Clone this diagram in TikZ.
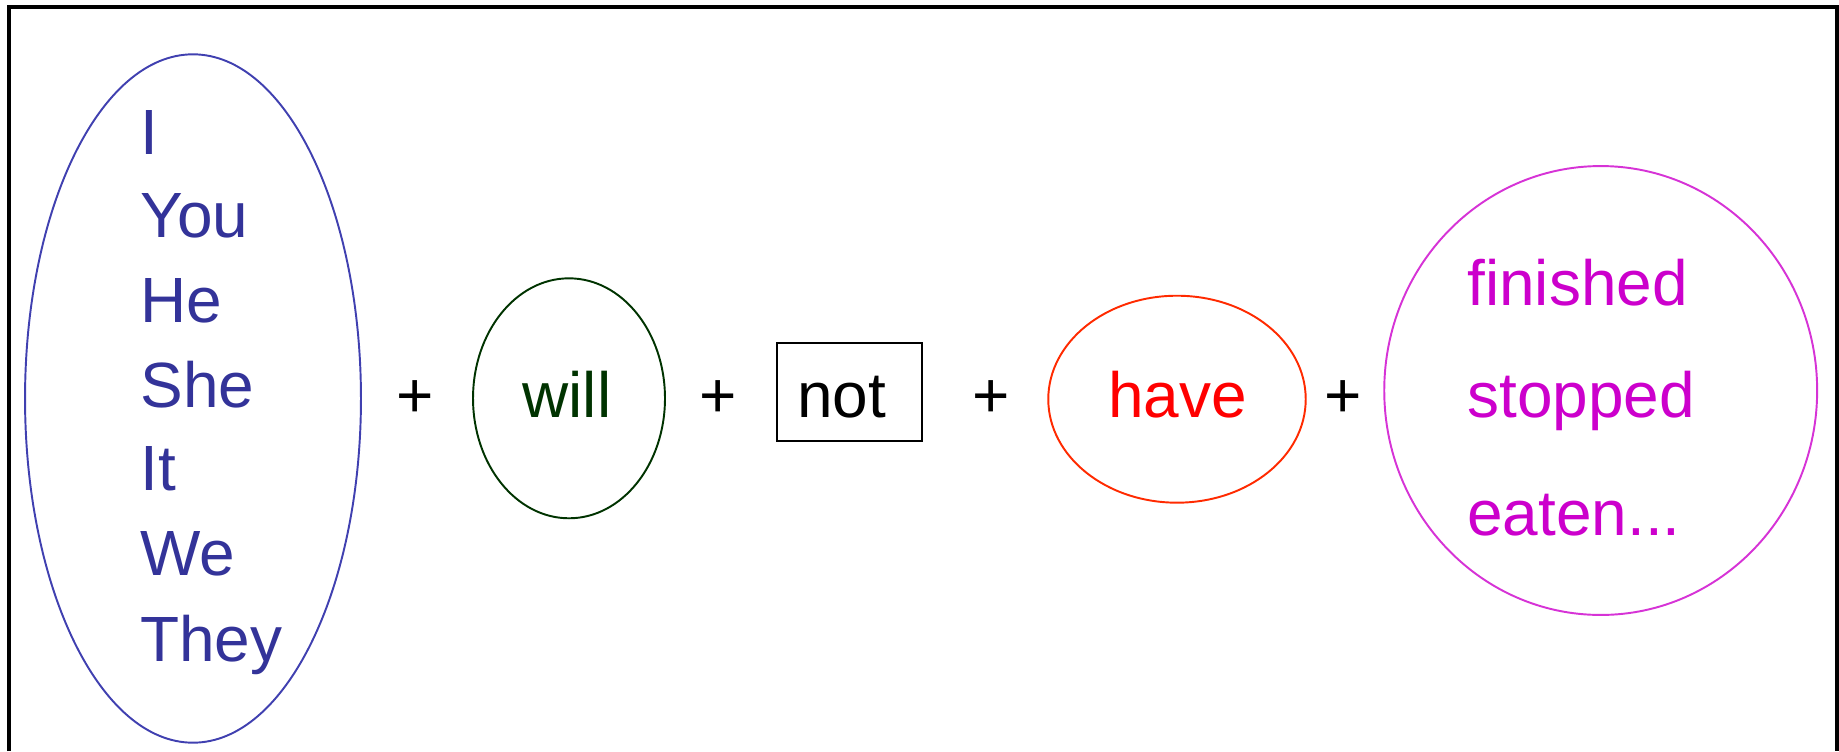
\documentclass[tikz,border=0pt]{standalone}
\usepackage{fontspec}
\setmainfont{Liberation Sans}
\usepackage{tikz}
\usetikzlibrary{shapes.geometric}

\definecolor{subjtext}{HTML}{333399}
\definecolor{subjline}{HTML}{4040B0}
\definecolor{auxgreen}{HTML}{003300}
\definecolor{havetext}{HTML}{FF0000}
\definecolor{haveline}{HTML}{FF2A00}
\definecolor{parttext}{HTML}{CC00CC}
\definecolor{partline}{HTML}{D633D6}

\tikzset{
	word/.style={font=\fontsize{36.4}{40}\selectfont, inner sep=0pt},
	ring/.style={ellipse, draw, line width=1.1pt, inner sep=0pt},
	wordbox/.style={rectangle, draw, line width=1.1pt, inner sep=0pt}
}

\begin{document}
\begin{tikzpicture}[x=0.02cm,y=-0.02cm]
				\useasboundingbox (0,0) rectangle (1839,751);
				%Nodes
				\node[ring,subjline,minimum width=6.72cm,minimum height=13.77cm]	(subj)	at	(193,398.5) {};
				\node[ring,auxgreen,minimum width=3.84cm,minimum height=4.8cm]		(will)	at	(569,398.3) {};
				\node[wordbox,minimum width=2.9cm,minimum height=1.96cm]		(not)	at	(849.2,391.7) {};
				\node[ring,haveline,minimum width=5.15cm,minimum height=4.14cm]	(have)	at	(1177,399.2) {};
				\node[ring,partline,minimum width=8.66cm,minimum height=8.98cm]	(part)	at	(1600.7,390.5) {};

				\node[word,subjtext,anchor=base west]	(w1)	at	(140,154)	{I};
				\node[word,subjtext,anchor=base west]	(w2)	at	(140,237)	{You};
				\node[word,subjtext,anchor=base west]	(w3)	at	(140,322)	{He};
				\node[word,subjtext,anchor=base west]	(w4)	at	(140,407)	{She};
				\node[word,subjtext,anchor=base west]	(w5)	at	(140,490)	{It};
				\node[word,subjtext,anchor=base west]	(w6)	at	(140,575)	{We};
				\node[word,subjtext,anchor=base west]	(w7)	at	(140,661)	{They};

				\node[word,auxgreen,anchor=base]	(t1)	at	(567,417)	{will};
				\node[word,anchor=base]			(t2)	at	(841.5,417)	{not};
				\node[word,havetext,anchor=base]	(t3)	at	(1177.5,417)	{have};

				\node[word,parttext,anchor=base west]	(p1)	at	(1467,305)	{finished};
				\node[word,parttext,anchor=base west]	(p2)	at	(1467,417.5)	{stopped};
				\node[word,parttext,anchor=base west]	(p3)	at	(1467,535)	{eaten...};

				\node[word,anchor=base]	(plus1)	at	(414.7,417)	{+};
				\node[word,anchor=base]	(plus2)	at	(717.7,417)	{+};
				\node[word,anchor=base]	(plus3)	at	(991,417)	{+};
				\node[word,anchor=base]	(plus4)	at	(1342.8,417)	{+};

				%Lines
				\draw[line width=2.55pt] (9,751) -- (9,7) -- (1837,7) -- (1837,751);

		\end{tikzpicture}
\end{document}
